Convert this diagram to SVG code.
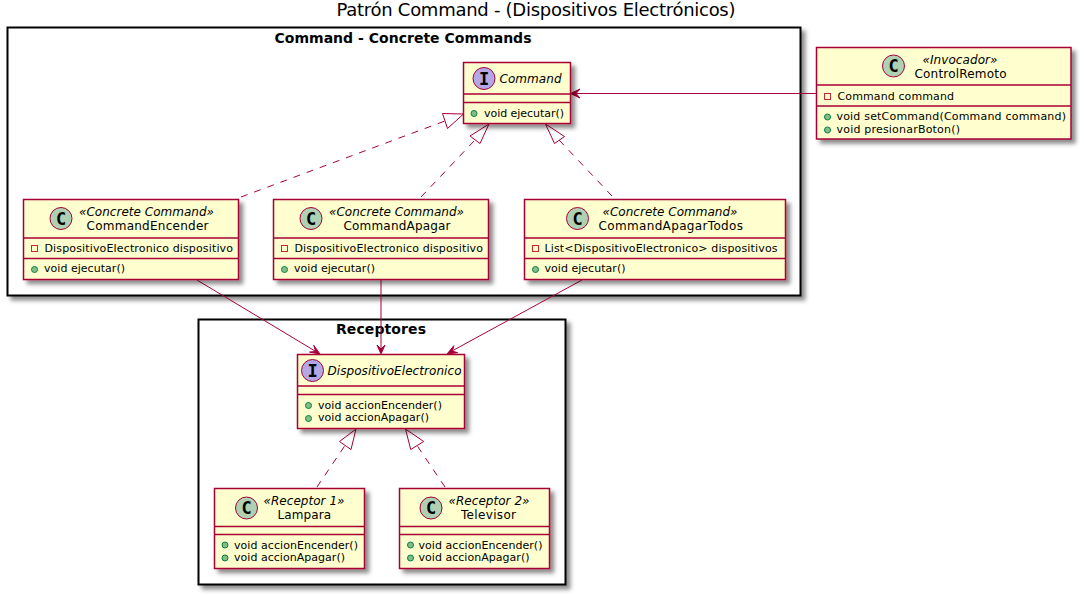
<svg xmlns="http://www.w3.org/2000/svg" width="1084" height="595" viewBox="0 0 1084 595">
<style>
text{font-family:"DejaVu Sans",sans-serif;fill:#000}
.title{font-size:18px}
.pkg-t{font-size:14px;font-weight:bold}
.box{fill:#FEFECE;stroke:#A80036;stroke-width:1.5;filter:url(#sh)}
.pkgs{fill:#fff;stroke:#000;stroke-width:2;filter:url(#sh)}
.div{stroke:#A80036;stroke-width:1.5;fill:none}
.st{font-size:12px;font-style:italic}
.nm{font-size:12px}
.it{font-size:12px;font-style:italic}
.m{font-size:11px}
.c{fill:#ADD1B2;stroke:#A80036;stroke-width:1}
.i{fill:#B4A7E5;stroke:#A80036;stroke-width:1}
.g{font-size:17px;font-weight:bold;font-family:"DejaVu Sans Mono",monospace;text-anchor:middle}
.priv{fill:none;stroke:#C82930;stroke-width:1}
.pub{fill:#84BE84;stroke:#038048;stroke-width:1}
.ln{stroke:#A80036;stroke-width:1;fill:none}
.dash{stroke:#A80036;stroke-width:1;fill:none;stroke-dasharray:7,7}
.tri{fill:#fff;stroke:#A80036;stroke-width:1}
.arr{fill:#A80036;stroke:#A80036;stroke-width:1}
</style>
<defs>
<filter id="sh" x="-10%" y="-10%" width="120%" height="125%">
<feDropShadow dx="4" dy="4" stdDeviation="2" flood-color="#000" flood-opacity="0.45"/>
</filter>
</defs>
<text class="title" x="336.500" y="16" textLength="399">Patrón Command - (Dispositivos Electrónicos)</text>
<g id="pkg-commands"><rect class="pkgs" x="7.500" y="27.500" width="793" height="268"/><text class="pkg-t" x="274.500" y="43" textLength="257">Command - Concrete Commands</text></g>
<g id="pkg-receptores"><rect class="pkgs" x="198.500" y="319.500" width="367" height="265"/><text class="pkg-t" x="336" y="334" textLength="90">Receptores</text></g>
<g id="connectors">
<line class="ln" x1="817" y1="93.500" x2="576" y2="93.500"/>
<polygon class="arr" points="570.500,93.500 580,89 576,93.500 580,98"/>
<line class="dash" x1="241" y1="197" x2="445" y2="121"/>
<polygon class="tri" points="463.500,114 442.500,113.500 447.500,128.500"/>
<line class="dash" x1="421" y1="197" x2="475" y2="140"/>
<polygon class="tri" points="489,124 470,136 480,143.500"/>
<line class="dash" x1="612" y1="196" x2="559" y2="140"/>
<polygon class="tri" points="545.500,124 554.500,143.500 564.500,136.500"/>
<line class="ln" x1="197" y1="280" x2="315" y2="351"/>
<polygon class="arr" points="320,354 309.600,352.100 315.700,351.400 313.700,345.300"/>
<line class="ln" x1="381" y1="280" x2="381" y2="349"/>
<polygon class="arr" points="381,354 377,345 381,349 385,345"/>
<line class="ln" x1="582" y1="280" x2="452" y2="351"/>
<polygon class="arr" points="447,354 457.700,352.700 452.300,351.100 453.900,345.700"/>
<line class="dash" x1="317" y1="487" x2="345" y2="445.500"/>
<polygon class="tri" points="356,429 339.500,441.500 351,449.500"/>
<line class="dash" x1="445" y1="487" x2="417" y2="445.500"/>
<polygon class="tri" points="405.500,429 410.700,449.500 423.700,441.500"/>
</g>
<g id="Command"><rect class="box" x="463.500" y="62.500" width="107" height="61"/>
<circle class="i" cx="484" cy="78.500" r="11"/><text class="g" x="484" y="84.500">I</text>
<text class="it" x="499.500" y="83" textLength="62">Command</text>
<path class="div" d="M463.500 94H570.500M463.500 102.500H570.500"/>
<circle class="pub" cx="474" cy="113.500" r="3"/><text class="m" x="484" y="117" textLength="80">void ejecutar()</text></g>
<g id="ControlRemoto"><rect class="box" x="816.500" y="47.500" width="254.500" height="91.500"/>
<circle class="c" cx="893.500" cy="66" r="11"/><text class="g" x="893.500" y="72">C</text>
<text class="st" x="922.500" y="64" textLength="75">«Invocador»</text><text class="nm" x="914.500" y="78" textLength="92">ControlRemoto</text>
<path class="div" d="M816.500 85H1071M816.500 106H1071"/>
<rect class="priv" x="824.500" y="93.500" width="6" height="6"/><text class="m" x="837.500" y="100" textLength="116.500">Command command</text>
<circle class="pub" cx="827.500" cy="117" r="3"/><text class="m" x="836.500" y="120" textLength="229.500">void setCommand(Command command)</text>
<circle class="pub" cx="827.500" cy="130" r="3"/><text class="m" x="836.500" y="133" textLength="123.500">void presionarBoton()</text></g>
<g id="CommandEncender"><rect class="box" x="23.500" y="199.500" width="215" height="80"/>
<circle class="c" cx="61" cy="218.500" r="11"/><text class="g" x="61" y="224.500">C</text>
<text class="st" x="79" y="216" textLength="135">«Concrete Command»</text><text class="nm" x="86.500" y="230" textLength="122">CommandEncender</text>
<path class="div" d="M23.500 238H238.500M23.500 258.500H238.500"/>
<rect class="priv" x="31.500" y="245.500" width="6" height="6"/><text class="m" x="44.500" y="252" textLength="188.500">DispositivoElectronico dispositivo</text>
<circle class="pub" cx="34.500" cy="269.500" r="3"/><text class="m" x="44" y="272" textLength="81">void ejecutar()</text></g>
<g id="CommandApagar"><rect class="box" x="273.500" y="199.500" width="215" height="80"/>
<circle class="c" cx="311" cy="218.500" r="11"/><text class="g" x="311" y="224.500">C</text>
<text class="st" x="329" y="216" textLength="135">«Concrete Command»</text><text class="nm" x="343.500" y="230" textLength="107">CommandApagar</text>
<path class="div" d="M273.500 238H488.500M273.500 258.500H488.500"/>
<rect class="priv" x="281.500" y="245.500" width="6" height="6"/><text class="m" x="294.500" y="252" textLength="188.500">DispositivoElectronico dispositivo</text>
<circle class="pub" cx="284.500" cy="269.500" r="3"/><text class="m" x="294" y="272" textLength="81">void ejecutar()</text></g>
<g id="CommandApagarTodos"><rect class="box" x="524.500" y="199.500" width="261" height="80"/>
<circle class="c" cx="577.500" cy="218.500" r="11"/><text class="g" x="577.500" y="224.500">C</text>
<text class="st" x="602.500" y="216" textLength="135">«Concrete Command»</text><text class="nm" x="598.500" y="230" textLength="144.500">CommandApagarTodos</text>
<path class="div" d="M524.500 238H785.500M524.500 258.500H785.500"/>
<rect class="priv" x="532.500" y="245.500" width="6" height="6"/><text class="m" x="544.500" y="252" textLength="233">List&lt;DispositivoElectronico&gt; dispositivos</text>
<circle class="pub" cx="535.500" cy="269.500" r="3"/><text class="m" x="544.500" y="272" textLength="81">void ejecutar()</text></g>
<g id="DispositivoElectronico"><rect class="box" x="297.500" y="354.500" width="167" height="74"/>
<circle class="i" cx="312.500" cy="370.500" r="11"/><text class="g" x="312.500" y="376.500">I</text>
<text class="it" x="327.500" y="375" textLength="134">DispositivoElectronico</text>
<path class="div" d="M297.500 386H464.500M297.500 394.500H464.500"/>
<circle class="pub" cx="308.500" cy="405.500" r="3"/><text class="m" x="318" y="409" textLength="124">void accionEncender()</text>
<circle class="pub" cx="308.500" cy="418.500" r="3"/><text class="m" x="318" y="421" textLength="111">void accionApagar()</text></g>
<g id="Lampara"><rect class="box" x="214.500" y="488.500" width="150" height="80"/>
<circle class="c" cx="246.500" cy="508" r="11"/><text class="g" x="246.500" y="514">C</text>
<text class="st" x="263.500" y="505" textLength="81">«Receptor 1»</text><text class="nm" x="277.500" y="519" textLength="53.500">Lampara</text>
<path class="div" d="M214.500 526.500H364.500M214.500 534.500H364.500"/>
<circle class="pub" cx="225" cy="545" r="3"/><text class="m" x="234" y="549" textLength="124">void accionEncender()</text>
<circle class="pub" cx="225" cy="558" r="3"/><text class="m" x="234" y="561" textLength="111">void accionApagar()</text></g>
<g id="Televisor"><rect class="box" x="399.500" y="488.500" width="150" height="80"/>
<circle class="c" cx="431" cy="508" r="11"/><text class="g" x="431" y="514">C</text>
<text class="st" x="448.500" y="505" textLength="81">«Receptor 2»</text><text class="nm" x="461" y="519" textLength="55">Televisor</text>
<path class="div" d="M399.500 526.500H549.500M399.500 534.500H549.500"/>
<circle class="pub" cx="410.500" cy="545" r="3"/><text class="m" x="418.500" y="549" textLength="124">void accionEncender()</text>
<circle class="pub" cx="410.500" cy="558" r="3"/><text class="m" x="418.500" y="561" textLength="111">void accionApagar()</text></g>
</svg>
